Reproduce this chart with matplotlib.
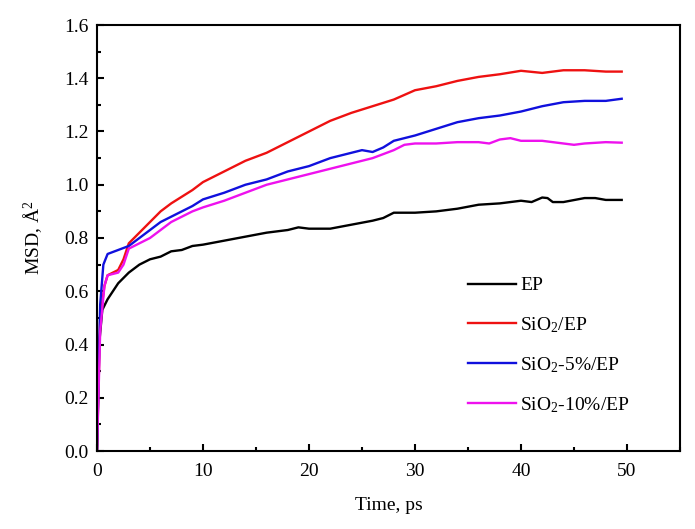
import matplotlib
matplotlib.use("Agg")
import matplotlib.pyplot as plt
from matplotlib.ticker import MultipleLocator

plt.rcParams['font.family'] = ['Liberation Serif', 'DejaVu Serif']
plt.rcParams['mathtext.fontset'] = 'custom'
plt.rcParams['mathtext.rm'] = 'Liberation Serif'
plt.rcParams['mathtext.it'] = 'Liberation Serif:italic'

# MSD curves (time in ps, MSD in A^2)
t_ep = [0, 0.2, 0.5, 1, 2, 3, 4, 5, 6, 7, 8, 9, 10, 12, 14, 16, 18, 19, 20, 22, 24,
        26, 27, 28, 30, 32, 34, 36, 38, 40, 41, 42, 42.5, 43, 44, 46, 47, 48, 49.5]
msd_ep = [0, 0.40, 0.53, 0.57, 0.63, 0.67, 0.70, 0.72, 0.73, 0.75, 0.755, 0.77, 0.775,
          0.79, 0.805, 0.82, 0.83, 0.84, 0.835, 0.835, 0.85, 0.865, 0.875, 0.895, 0.895,
          0.90, 0.91, 0.925, 0.93, 0.94, 0.935, 0.952, 0.95, 0.935, 0.935, 0.95, 0.95,
          0.943, 0.943]

t_sio2 = [0, 0.3, 0.7, 1, 2, 2.5, 3, 4, 5, 6, 7, 8, 9, 10, 12, 14, 16, 18, 20, 22, 24,
          26, 28, 30, 32, 34, 36, 38, 40, 42, 44, 46, 48, 49.5]
msd_sio2 = [0, 0.50, 0.62, 0.66, 0.68, 0.72, 0.78, 0.82, 0.86, 0.90, 0.93, 0.955, 0.98,
            1.01, 1.05, 1.09, 1.12, 1.16, 1.20, 1.24, 1.27, 1.295, 1.32, 1.355, 1.37,
            1.39, 1.405, 1.415, 1.428, 1.42, 1.43, 1.43, 1.425, 1.425]

t_5 = [0, 0.3, 0.6, 1, 2, 3, 4, 5, 6, 7, 8, 9, 10, 12, 14, 16, 18, 20, 22, 24, 25, 26,
       27, 28, 30, 32, 34, 36, 38, 40, 42, 44, 46, 48, 49.5]
msd_5 = [0, 0.55, 0.70, 0.74, 0.755, 0.77, 0.80, 0.83, 0.86, 0.88, 0.90, 0.92, 0.945,
         0.97, 1.00, 1.02, 1.05, 1.07, 1.10, 1.12, 1.13, 1.123, 1.14, 1.165, 1.185,
         1.21, 1.235, 1.25, 1.26, 1.275, 1.295, 1.31, 1.315, 1.315, 1.323]

t_10 = [0, 0.3, 0.7, 1, 2, 2.5, 3, 4, 5, 6, 7, 8, 9, 10, 12, 14, 16, 18, 20, 22, 24,
        26, 28, 29, 30, 32, 34, 36, 37, 38, 39, 40, 42, 44, 45, 46, 48, 49.5]
msd_10 = [0, 0.45, 0.62, 0.66, 0.67, 0.70, 0.76, 0.78, 0.80, 0.83, 0.86, 0.88, 0.90,
          0.915, 0.94, 0.97, 1.00, 1.02, 1.04, 1.06, 1.08, 1.10, 1.13, 1.15, 1.155,
          1.155, 1.16, 1.16, 1.155, 1.17, 1.175, 1.165, 1.165, 1.155, 1.15, 1.155,
          1.16, 1.158]

fig = plt.figure(figsize=(6.95, 5.29), dpi=100)
ax = fig.add_axes([97 / 695, 78 / 529, 583 / 695, 426 / 529])

ax.plot(t_ep, msd_ep, color='black', lw=1.7, label='EP')
ax.plot(t_sio2, msd_sio2, color='#ee1111', lw=1.7, label='SiO$_2$/EP')
ax.plot(t_5, msd_5, color='#1010dd', lw=1.7, label='SiO$_2$-5%/EP')
ax.plot(t_10, msd_10, color='#ee11ee', lw=1.7, label='SiO$_2$-10%/EP')

ax.set_xlim(0, 55)
ax.set_ylim(0, 1.6)
ax.xaxis.set_major_locator(MultipleLocator(10))
ax.xaxis.set_minor_locator(MultipleLocator(5))
ax.yaxis.set_major_locator(MultipleLocator(0.2))
ax.yaxis.set_minor_locator(MultipleLocator(0.1))
ax.yaxis.set_major_formatter(plt.FormatStrFormatter('%.1f'))
ax.tick_params(which='both', direction='in', top=False, right=False, width=1.5,
               labelsize=14)
ax.tick_params(which='major', length=5)
ax.tick_params(which='minor', length=3)
ax.tick_params(axis='x', which='both', pad=9)
ax.tick_params(axis='y', which='both', pad=6)
for s in ax.spines.values():
    s.set_linewidth(1.5)

ax.set_xlabel('Time, ps', fontsize=14, labelpad=12)
ax.set_ylabel('MSD, Å$^2$', fontsize=14, labelpad=14)

ax.legend(loc='lower left', bbox_to_anchor=(0.636, 0.085), frameon=False, fontsize=14,
          handlelength=2.5, labelspacing=1.05, handletextpad=0.2, borderpad=0,
          borderaxespad=0)

fig.savefig('out.png', dpi=100)
